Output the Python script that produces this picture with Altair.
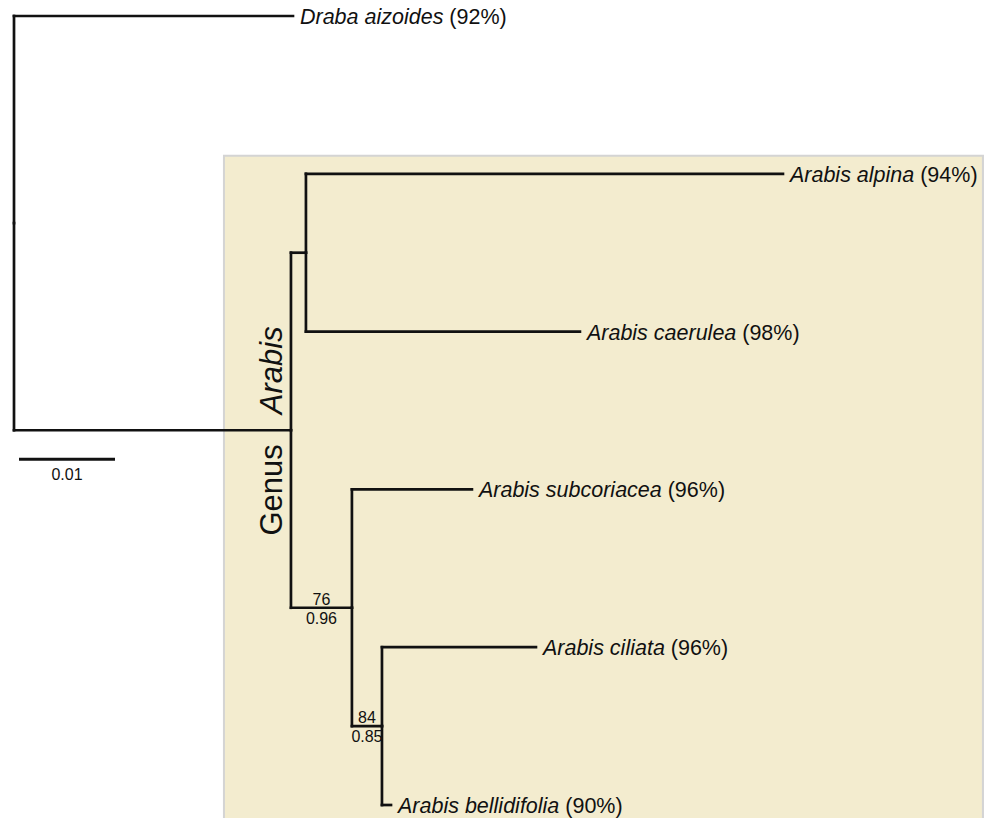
import altair as alt
import pandas as pd

# ---------------- data ----------------
node_names = ["root", "Draba aizoides", "N1", "N2", "Arabis alpina", "Arabis caerulea",
              "N3", "Arabis subcoriacea", "N4", "Arabis ciliata", "Arabis bellidifolia"]
parents = [None, "root", "root", "N1", "N2", "N2", "N1", "N3", "N3", "N4", "N4"]
branch_lengths = [0.0, 0.02906, 0.02885, 0.00156, 0.04969, 0.02854,
                  0.00635, 0.01250, 0.00313, 0.01604, 0.00094]

leaf_names = ["Draba aizoides", "Arabis alpina", "Arabis caerulea",
              "Arabis subcoriacea", "Arabis ciliata", "Arabis bellidifolia"]
leaf_identity = [92, 94, 98, 96, 96, 90]

support_nodes = ["N3", "N4"]
bootstrap = ["76", "84"]
posterior = ["0.96", "0.85"]

scale_bar_length = 0.01
scale_bar_label = "0.01"

# ---------------- layout helpers ----------------
PX = 9600.0      # pixels per unit branch length
ROW = 157.8      # pixels per leaf row
W, H = 977, 810
FONT = "Liberation Sans"

# Arial / Liberation Sans advance widths (per 1000 em)
AW = {"A": 667, "D": 722, "a": 556, "b": 556, "c": 500, "d": 556, "e": 556, "f": 278,
      "i": 222, "l": 222, "n": 556, "o": 556, "p": 556, "r": 333, "s": 500, "t": 278,
      "u": 556, "z": 500, " ": 278}


def text_w(s, size):
    return sum(AW.get(c, 556) for c in s) * size / 1000.0


# tree coordinates
x_of, y_of = {}, {}
children = {n: [] for n in node_names}
for n, p in zip(node_names, parents):
    if p is not None:
        children[p].append(n)
bl = dict(zip(node_names, branch_lengths))
par = dict(zip(node_names, parents))


def set_x(n, base):
    x_of[n] = base + bl[n]
    for c in children[n]:
        set_x(c, x_of[n])


set_x("root", 0.0)


def set_y(n):
    if n in leaf_names:
        y_of[n] = float(leaf_names.index(n))
    else:
        y_of[n] = sum(set_y(c) for c in children[n]) / len(children[n])
    return y_of[n]


set_y("root")

segs = []
for n in node_names:
    p = par[n]
    if p is None:
        continue
    segs.append(dict(x=x_of[p], x2=x_of[n], y=y_of[n], y2=y_of[n]))
    segs.append(dict(x=x_of[p], x2=x_of[p], y=y_of[n], y2=y_of[p]))
seg_df = pd.DataFrame(segs)

LABEL_GAP = 7
FS = 21.5
lab_rows = []
for name, pct in zip(leaf_names, leaf_identity):
    tip = x_of[name]
    lab_rows.append(dict(
        name=name, pct=f"({pct}%)", y=y_of[name],
        xn=tip + LABEL_GAP / PX,
        xp=tip + (LABEL_GAP + text_w(name + " ", FS)) / PX))
lab_df = pd.DataFrame(lab_rows)

sup_rows = []
for n, b, pp in zip(support_nodes, bootstrap, posterior):
    sup_rows.append(dict(x=(x_of[par[n]] + x_of[n]) / 2, y=y_of[n], b=b, p=pp))
sup_df = pd.DataFrame(sup_rows)

n1x, n1y = x_of["N1"], y_of["N1"]
genus_df = pd.DataFrame([
    dict(t="Arabis", x=n1x - 9 / PX, y=n1y - 16 / ROW),
    dict(t="Genus", x=n1x - 9 / PX, y=n1y + 14 / ROW),
])

box_df = pd.DataFrame([dict(x=n1x - 67 / PX, x2=n1x + 692 / PX,
                            y=y_of["Arabis alpina"] - 18 / ROW, y2=5.4)])

sb_x0 = 5 / PX
sb_df = pd.DataFrame([dict(x=sb_x0, x2=sb_x0 + scale_bar_length,
                           y=y_of["N1"] + 29 / ROW, lab=scale_bar_label,
                           xm=sb_x0 + scale_bar_length / 2)])

# ---------------- scales ----------------
xs = alt.Scale(domain=[(8 - 14) / PX, (8 + W - 14) / PX], nice=False, zero=False)
ys = alt.Scale(domain=[(8 - 16) / ROW, (8 + H - 16) / ROW], nice=False, zero=False, reverse=True)


def X(f):
    return alt.X(f, type="quantitative", scale=xs, axis=None)


def Y(f):
    return alt.Y(f, type="quantitative", scale=ys, axis=None)


box = alt.Chart(box_df).mark_rect(fill="#F3ECCF", stroke="#D4D4D4", strokeWidth=2).encode(
    x=X("x"), x2="x2", y=Y("y"), y2="y2")

lines = alt.Chart(seg_df).mark_rule(color="#111111", strokeWidth=2.7, strokeCap="square").encode(
    x=X("x"), x2="x2", y=Y("y"), y2="y2")

names = alt.Chart(lab_df).mark_text(align="left", baseline="alphabetic", dy=8, fontStyle="italic",
                                     fontSize=FS, font=FONT, color="#111111").encode(
    x=X("xn"), y=Y("y"), text="name:N")

pcts = alt.Chart(lab_df).mark_text(align="left", baseline="alphabetic", dy=8,
                                    fontSize=FS, font=FONT, color="#111111").encode(
    x=X("xp"), y=Y("y"), text="pct:N")

boot = alt.Chart(sup_df).mark_text(align="center", baseline="alphabetic", dy=-3,
                                    fontSize=16, font=FONT, color="#111111").encode(
    x=X("x"), y=Y("y"), text="b:N")

post = alt.Chart(sup_df).mark_text(align="center", baseline="alphabetic", dy=16,
                                    fontSize=16, font=FONT, color="#111111").encode(
    x=X("x"), y=Y("y"), text="p:N")

arabis_t = alt.Chart(genus_df[genus_df.t == "Arabis"]).mark_text(
    align="left", baseline="alphabetic", angle=270, fontSize=31, fontStyle="italic",
    font=FONT, color="#111111").encode(x=X("x"), y=Y("y"), text="t:N")

genus_t = alt.Chart(genus_df[genus_df.t == "Genus"]).mark_text(
    align="right", baseline="alphabetic", angle=270, fontSize=31,
    font=FONT, color="#111111").encode(x=X("x"), y=Y("y"), text="t:N")

sbar = alt.Chart(sb_df).mark_rule(color="#111111", strokeWidth=3).encode(
    x=X("x"), x2="x2", y=Y("y"))

sbar_t = alt.Chart(sb_df).mark_text(align="center", baseline="alphabetic", dy=21,
                                     fontSize=16, font=FONT, color="#111111").encode(
    x=X("xm"), y=Y("y"), text="lab:N")

chart = alt.layer(box, lines, names, pcts, boot, post, arabis_t, genus_t, sbar, sbar_t).properties(
    width=W, height=H, padding=0, autosize=alt.AutoSizeParams(type="none"),
    background="white"
).configure_view(stroke=None)

chart.save("out.html", embed_options={"renderer": "svg", "actions": False})
